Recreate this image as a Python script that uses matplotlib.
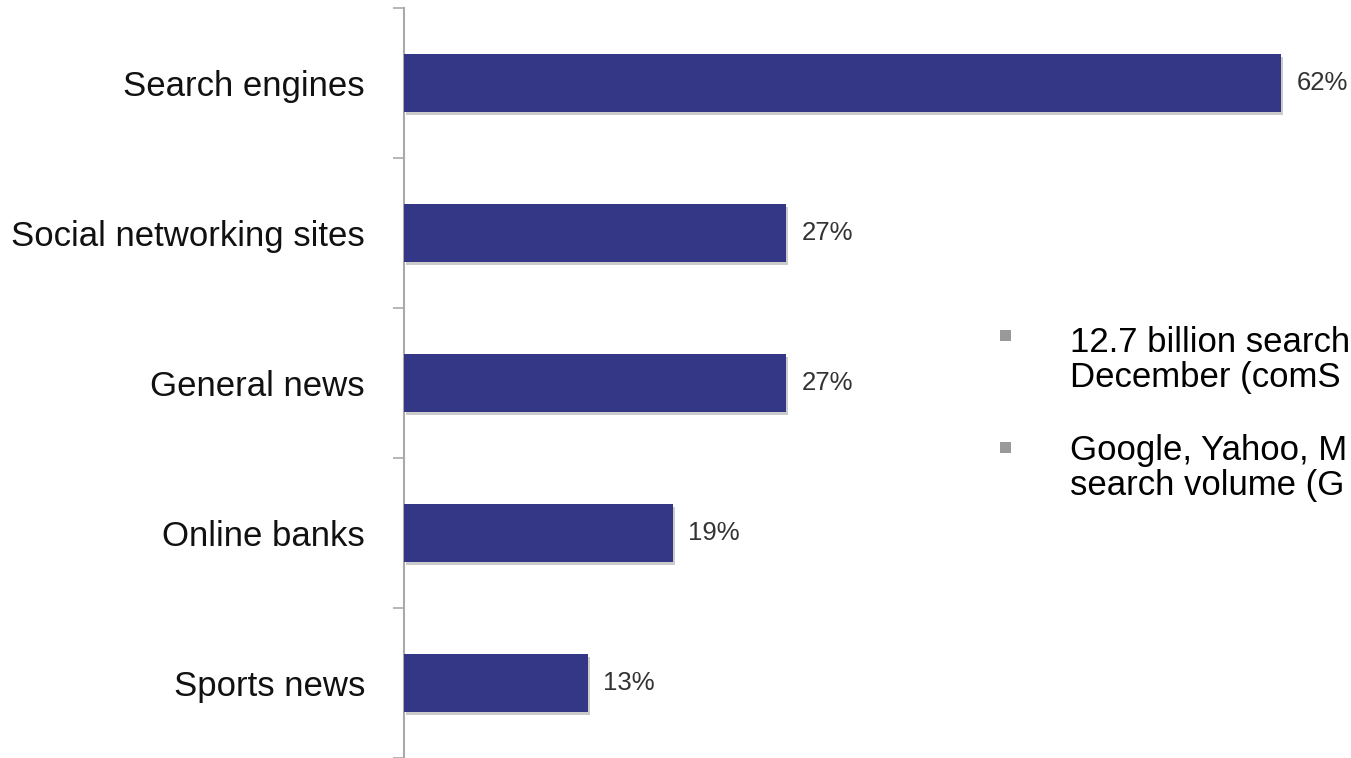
import matplotlib.pyplot as plt
import matplotlib.patheffects as pe
from matplotlib.patches import Rectangle

categories = ["Search engines", "Social networking sites", "General news", "Online banks", "Sports news"]
values = [62, 27, 27, 19, 13]
value_labels = ["62%", "27%", "27%", "19%", "13%"]
# right-hand notes, cut off at the image edge in the reference
bullet_lines = [
    ["12.7 billion search", "December (comS"],
    ["Google, Yahoo, M", "search volume (G"],
]

W, H = 1351, 758
plt.rcParams["font.family"] = ["Liberation Sans", "DejaVu Sans"]

fig = plt.figure(figsize=(W / 100, H / 100), dpi=100)
ax = fig.add_axes([404 / W, 0, 1 - 404 / W, 1 - 8 / H])

positions = list(range(len(categories)))
bars = ax.barh(positions, values, height=0.39, color="#333786", zorder=3)
for b in bars:
    b.set_path_effects([pe.SimplePatchShadow(offset=(1.5, -2), shadow_rgbFace="#999999", alpha=0.5), pe.Normal()])

for p, v, lab in zip(positions, values, value_labels):
    ax.annotate(lab, (v, p), xytext=(11, 0), textcoords="offset points",
                va="center", ha="left", fontsize=18.5, color="#333333")

ax.set_xlim(0, 947 / 14.15)
ax.set_ylim(len(categories) - 0.5, -0.5)

ax.set_yticks(positions)
ax.set_yticklabels(categories, fontsize=25, color="#111111")
ax.set_yticks([i - 0.5 for i in range(len(categories) + 1)], minor=True)
ax.tick_params(axis="y", which="major", length=0, pad=28)
ax.tick_params(axis="y", which="minor", length=8, width=1.2, color="#aaaaaa", direction="out")
ax.set_xticks([])

for s in ["top", "right", "bottom"]:
    ax.spines[s].set_visible(False)
ax.spines["left"].set_color("#aaaaaa")
ax.spines["left"].set_linewidth(1.5)

# bullet notes on the right
baselines = [352, 460]
bullet_tops = [330, 442]
for base, btop, lines in zip(baselines, bullet_tops, bullet_lines):
    fig.patches.append(Rectangle((1000 / W, 1 - (btop + 11) / H), 11 / W, 11 / H,
                                 transform=fig.transFigure, facecolor="#999999", edgecolor="none"))
    for k, line in enumerate(lines):
        fig.text(1070 / W, 1 - (base + k * 35) / H, line, fontsize=25, color="#000000",
                 va="baseline", ha="left")

fig.savefig("out.png", dpi=100)
